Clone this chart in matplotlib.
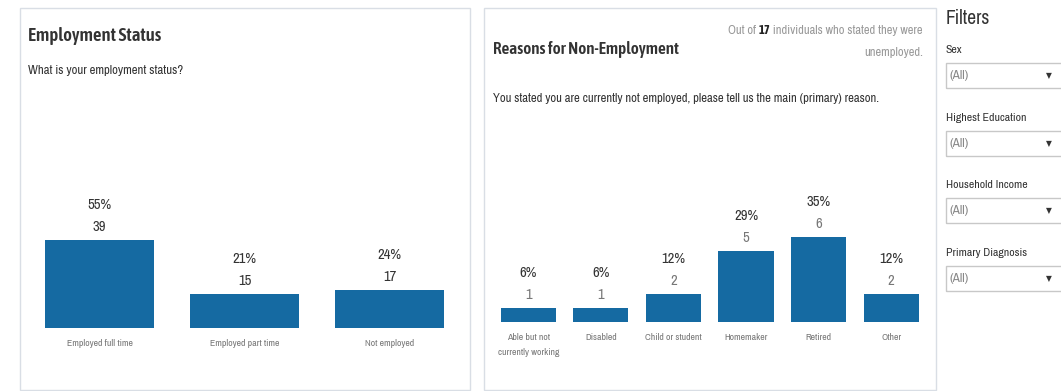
import matplotlib.pyplot as plt
from matplotlib.patches import Rectangle

plt.rcParams['font.family'] = ['Archivo Narrow', 'DejaVu Sans']
BOLD_FAM = ['Asap Condensed', 'Archivo Narrow', 'DejaVu Sans']

# data
status_cats = ["Employed full time", "Employed part time", "Not employed"]
status_counts = [39, 15, 17]
status_pcts = ["55%", "21%", "24%"]

reason_cats = ["Able but not\ncurrently working", "Disabled", "Child or student",
               "Homemaker", "Retired", "Other"]
reason_counts = [1, 1, 2, 5, 6, 2]
reason_pcts = ["6%", "6%", "12%", "29%", "35%", "12%"]

filter_names = ["Sex", "Highest Education", "Household Income", "Primary Diagnosis"]

W, H = 1061, 391
BLUE = '#156aa2'
DARK = '#333333'
GRAY = '#777777'
BORDER = '#d9dee5'

fig = plt.figure(figsize=(W / 100, H / 100), dpi=100)
fig.patch.set_facecolor('white')


def fx(x):
    return x / W


def fy(y):
    return 1 - y / H


def box(x0, y0, x1, y1, ec=BORDER, lw=1.0):
    fig.patches.append(Rectangle((fx(x0), fy(y1)), fx(x1 - x0), (y1 - y0) / H,
                                 transform=fig.transFigure, fill=False,
                                 ec=ec, lw=lw))


def bar_panel(rect, cats, counts, pcts, width, count_color, ymax, lab_size):
    ax = fig.add_axes(rect)
    x = list(range(len(cats)))
    ax.bar(x, counts, width=width, color=BLUE)
    ax.set_xlim(-0.5, len(cats) - 0.5)
    ax.set_ylim(0, ymax)
    for i in x:
        ax.annotate(str(counts[i]), (i, counts[i]), xytext=(0, 13),
                    textcoords='offset pixels', ha='center', va='center',
                    fontsize=10.5, color=count_color)
        ax.annotate(pcts[i], (i, counts[i]), xytext=(0, 35),
                    textcoords='offset pixels', ha='center', va='center',
                    fontsize=10.5, color=DARK)
    ax.set_xticks(x)
    ax.set_xticklabels(cats, fontsize=lab_size, color=GRAY, linespacing=1.8)
    ax.tick_params(axis='x', length=0, pad=8)
    ax.set_yticks([])
    for s in ax.spines.values():
        s.set_visible(False)
    ax.patch.set_alpha(0)
    return ax


# panel borders
box(20, 8, 470, 390)
box(484, 8, 936, 390)

# left panel
fig.text(fx(28), fy(36), "Employment Status", fontsize=13.4, fontweight='semibold',
         color=DARK, va='center', family=BOLD_FAM)
fig.text(fx(28), fy(70), "What is your employment status?", fontsize=9.2,
         color=DARK, va='center')
bar_panel([fx(27), fy(328), fx(435), 148 / H], status_cats, status_counts,
          status_pcts, 0.75, DARK, 148 / 2.26, 7)

# right panel
fig.text(fx(493), fy(49), "Reasons for Non-Employment", fontsize=12.3,
         fontweight='semibold', color=DARK, va='center', family=BOLD_FAM)
fig.text(fx(493), fy(99),
         "You stated you are currently not employed, please tell us the main (primary) reason.",
         fontsize=9.1, color=DARK, va='center')
bar_panel([fx(492), fy(322), fx(435.5), 142 / H], reason_cats, reason_counts,
          reason_pcts, 0.76, GRAY, 142 / 14.2, 7)

# note with bold count, right aligned
r = fig.canvas.get_renderer()
t3 = fig.text(fx(923), fy(31), " individuals who stated they were", fontsize=9,
              color='#999999', ha='right', va='center')
bb = t3.get_window_extent(r)
t2 = fig.text(bb.x0 / W, fy(31), "17", fontsize=9, color='#222222',
              fontweight='bold', ha='right', va='center', family=BOLD_FAM)
bb = t2.get_window_extent(r)
fig.text(bb.x0 / W, fy(31), "Out of ", fontsize=9, color='#999999',
         ha='right', va='center')
fig.text(fx(923), fy(52), "unemployed.", fontsize=9, color='#999999',
         ha='right', va='center')

# filters
fig.text(fx(946), fy(19), "Filters", fontsize=14, color=DARK, va='center')
for k, name in enumerate(filter_names):
    y = 50 + k * 67.7
    fig.text(fx(946), fy(y), name, fontsize=8.5, color=DARK, va='center')
    box(946, y + 13, 1066, y + 38, ec='#c8c8c8')
    fig.text(fx(950), fy(y + 25.5), "(All)", fontsize=9.5, color='#888888',
             va='center')
    fig.text(fx(1049), fy(y + 25.5), "▼", fontsize=5.5, color=DARK,
             va='center', ha='center', family=['DejaVu Sans'])

fig.savefig('out.png', dpi=100)
